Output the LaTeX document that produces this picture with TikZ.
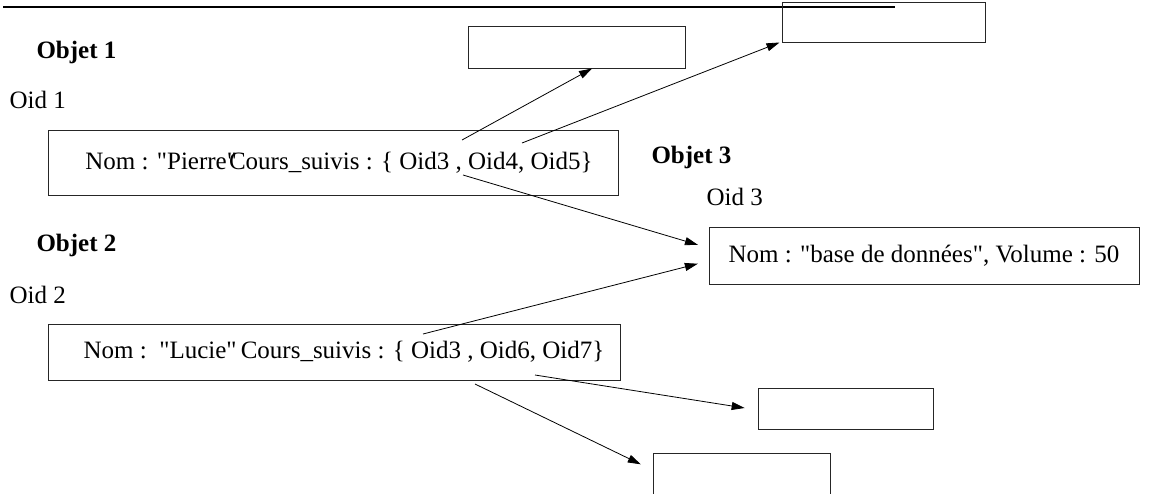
\documentclass[tikz,border=0pt]{standalone}
\usepackage{fontspec}
\setmainfont{Liberation Serif}[Ligatures=TeXOff]
\usetikzlibrary{arrows.meta}

\tikzset{
	objbox/.style={draw=black!85, line width=1pt, inner sep=0pt},
	link/.style={line width=0.8pt, -{Triangle[length=13pt,width=8pt]}},
}

\begin{document}
\begin{tikzpicture}[x=1pt, y=-1pt, font=\fontsize{25}{30}\selectfont]
	\useasboundingbox (0,0) rectangle (1153,493);
	\begin{scope}
	\clip (0,0) rectangle (1153,493);

	% top rule
	\draw[line width=1.6pt] (3,7) -- (895,7);

	% labels
	\node[anchor=west] at (33,52)  (t1) {\textbf{Objet 1}};
	\node[anchor=west] at (6,100)  (o1) {Oid 1};
	\node[anchor=west] at (33,245) (t2) {\textbf{Objet 2}};
	\node[anchor=west] at (6,295)  (o2) {Oid 2};
	\node[anchor=west] at (648,157) (t3) {\textbf{Objet 3}};
	\node[anchor=west] at (703,197) (o3) {Oid 3};

	% objects
	\node[objbox, minimum width=570pt, minimum height=65pt] at (333,162.5) (obj1)
		{\hspace{12pt}Nom : "Pierre"\kern-8pt Cours\_suivis : \{ Oid3 , Oid4, Oid5\}};
	\node[objbox, minimum width=572pt, minimum height=56pt] at (334,352) (obj2)
		{\hspace{20pt}Nom : \,"Lucie"\,Cours\_suivis : \{ Oid3 , Oid6, Oid7\}};
	\node[objbox, minimum width=430pt, minimum height=57pt] at (924,255.5) (obj3)
		{Nom : "base de données", Volume : 50};

	% empty objects
	\node[objbox, minimum width=217pt, minimum height=42pt] at (576.5,47) (oid4) {};
	\node[objbox, minimum width=203pt, minimum height=40pt] at (883.5,22) (oid5) {};
	\node[objbox, minimum width=175pt, minimum height=41pt] at (845.5,408.5) (oid6) {};
	\node[objbox, minimum width=177pt, minimum height=60pt] at (741.5,483) (oid7) {};

	% start points of references
	\coordinate (r4) at (462,140);
	\coordinate (r5) at (522,143);
	\coordinate (r3a) at (463,175);
	\coordinate (r3b) at (423,334);
	\coordinate (r6) at (535,375);
	\coordinate (r7) at (475,384);

	% references
	\draw[link] (r4) -- ([xshift=15.5pt]oid4.south);
	\draw[link] (r5) -- ([xshift=-2pt]oid5.south west);
	\draw[link, shorten >=11pt] (r3a) -- ([yshift=7.5pt]obj3.west);
	\draw[link, shorten >=11pt] (r3b) -- ([yshift=-5.5pt]obj3.west);
	\draw[link, shorten >=13pt] (r6) -- ([yshift=-1.5pt]oid6.west);
	\draw[link, shorten >=13pt] (r7) -- ([yshift=13pt]oid7.west);
	\end{scope}
\end{tikzpicture}
\end{document}
